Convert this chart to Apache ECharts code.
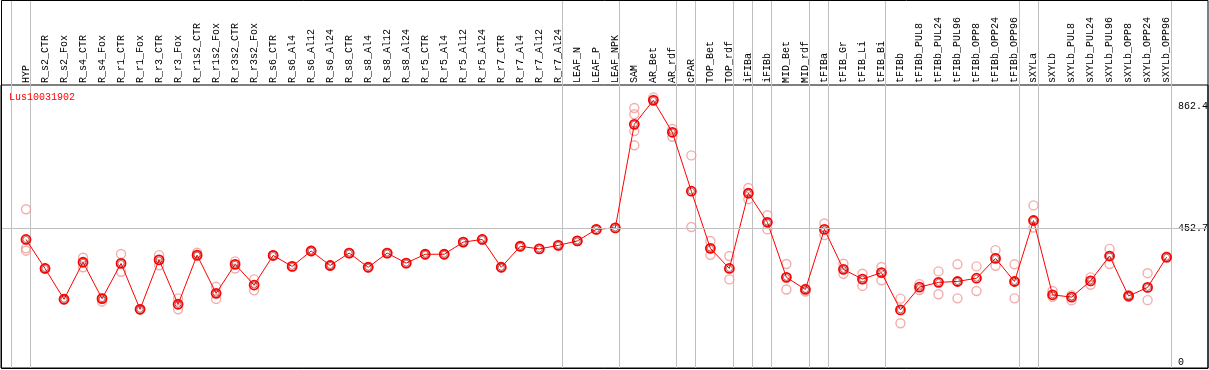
<!DOCTYPE html>
<html><head><meta charset="utf-8">
<script src="https://cdn.jsdelivr.net/npm/echarts@6/dist/echarts.min.js"></script>
<style>html,body{margin:0;padding:0;background:#fff}#c{width:1209px;height:370px}</style>
</head><body><div id="c"></div>
<script>
const geneName = 'Lus10031902';
const categories = ['HYP','R_s2_CTR','R_s2_Fox','R_s4_CTR','R_s4_Fox','R_r1_CTR','R_r1_Fox','R_r3_CTR','R_r3_Fox','R_r1s2_CTR','R_r1s2_Fox','R_r3s2_CTR','R_r3s2_Fox','R_s6_CTR','R_s6_Al4','R_s6_Al12','R_s6_Al24','R_s8_CTR','R_s8_Al4','R_s8_Al12','R_s8_Al24','R_r5_CTR','R_r5_Al4','R_r5_Al12','R_r5_Al24','R_r7_CTR','R_r7_Al4','R_r7_Al12','R_r7_Al24','LEAF_N','LEAF_P','LEAF_NPK','SAM','AR_Bet','AR_rdf','cPAR','TOP_Bet','TOP_rdf','iFIBa','iFIBb','MID_Bet','MID_rdf','tFIBa','tFIB_Gr','tFIB_Li','tFIB_Bi','tFIBb','tFIBb_PUL8','tFIBb_PUL24','tFIBb_PUL96','tFIBb_OPP8','tFIBb_OPP24','tFIBb_OPP96','sXYLa','sXYLb','sXYLb_PUL8','sXYLb_PUL24','sXYLb_PUL96','sXYLb_OPP8','sXYLb_OPP24','sXYLb_OPP96'];
const means = [414,316,212,337,214,333,178,345,195,361,232,330,260,360,323,375,326,368,320,368,334,364,364,405,414,320,391,382,394,409,448,453,803,884,776,577,384,316,570,472,286,245,448,313,280,302,176,253,269,272,283,350,272,478,227,219,274,358,223,252,354];
const replicates = [[516,384,376],[316,316],[212,212],[352,320],[216,204],[365,305],[178,178],[361,327],[215,178],[369,358],[254,213],[340,316],[279,242],[360,360],[323,323],[375,375],[326,326],[368,368],[320,320],[368,368],[334,334],[364,364],[364,364],[405,405],[414,414],[320,320],[391,391],[382,382],[394,394],[409,409],[448,448],[453,453],[858,837,780,732],[894,886],[787,761],[698,456],[409,362],[358,279],[588,550],[496,448],[331,245],[248,238],[468,429],[332,298],[298,257],[321,276],[214,131],[263,243],[306,229],[330,215],[323,240],[378,325],[330,215],[529,454],[240,220],[225,208],[286,261],[382,331],[226,220],[300,209],[356,352]];
const groupEnds = [-1,0,28,31,34,35,37,38,39,41,42,45,52,53,60];
const yTicks = [0,452.7,862.4];
const refLine = 452.7;

const meanData = means.map((v,i)=>[i,v]);
const repData = [];
replicates.forEach((r,i)=>r.forEach(v=>repData.push([i,v])));
const FONT = 'Liberation Mono';

const chart = echarts.init(document.getElementById('c'), null, {renderer:'canvas'});
chart.setOption({
  animation:false,
  backgroundColor:'#fff',
  title:{text:geneName,left:9,top:92,padding:0,textStyle:{color:'#ff0000',fontSize:10,fontWeight:'normal',fontFamily:FONT}},
  grid:{left:1,right:1,top:85,bottom:2,show:true,borderColor:'#000',borderWidth:1,backgroundColor:'transparent',outerBoundsMode:'none'},
  xAxis:{type:'value',position:'top',min:-1.3151,max:62.178,
    axisLine:{show:false},axisTick:{show:false},splitLine:{show:false},
    axisLabel:{customValues:categories.map((c,i)=>i),rotate:90,margin:2,fontSize:10,fontFamily:FONT,color:'#000',
      formatter:v=>categories[Math.round(v)]||''}},
  yAxis:{type:'value',position:'right',offset:-30,min:-20.3,max:935.8,
    axisLine:{show:false},axisTick:{show:false},splitLine:{show:false},
    axisLabel:{customValues:yTicks,margin:0,align:'left',fontSize:10,fontFamily:FONT,color:'#000',formatter:v=>String(v)}},
  series:[
    {type:'scatter',z:2,data:repData,symbol:'circle',symbolSize:9,
      itemStyle:{color:'rgba(0,0,0,0)',borderColor:'#f09898',borderWidth:1.4},
      markLine:{silent:true,symbol:'none',label:{show:false},lineStyle:{color:'#c0c0c0',width:1,type:'solid'},
        data:[{yAxis:refLine}]}},
    {type:'line',z:3,data:meanData,symbol:'circle',symbolSize:9,showSymbol:true,
      lineStyle:{color:'#ff0000',width:1},
      itemStyle:{color:'rgba(0,0,0,0)',borderColor:'#ff0000',borderWidth:1.8}},
    {type:'scatter',z:4,data:meanData,symbol:'circle',symbolSize:6,
      itemStyle:{color:'rgba(0,0,0,0)',borderColor:'#600000',borderWidth:0.7}}
  ]
});
const seps = groupEnds.map(k=>{
  const x = Math.round(chart.convertToPixel({xAxisIndex:0}, k+0.21));
  return {type:'rect',silent:true,z:1,shape:{x:x,y:0,width:1,height:369},style:{fill:'#c0c0c0',stroke:null,lineWidth:0}};
});
seps.push({type:'rect',silent:true,z:100,shape:{x:1.5,y:0.5,width:1206.5,height:368},style:{fill:'none',stroke:'#000',lineWidth:1}});
chart.setOption({graphic:seps});
</script></body></html>
